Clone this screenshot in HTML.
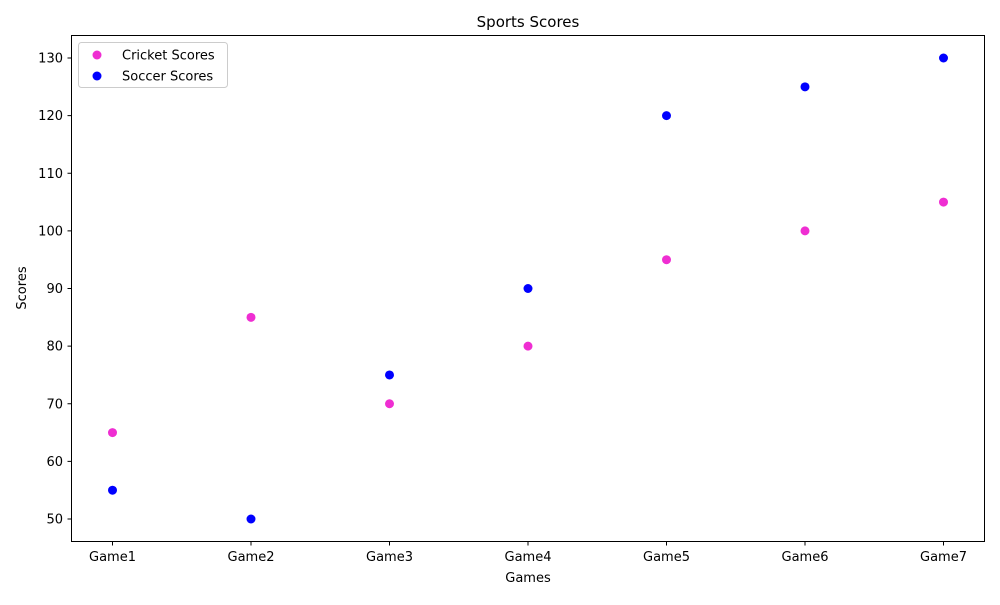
<!DOCTYPE html>
<html><head><meta charset="utf-8"><style>
body{margin:0;background:#fff;font-family:"Liberation Sans","DejaVu Sans",sans-serif;}
svg text{font-family:"DejaVu Sans","Liberation Sans",sans-serif;fill:#000;}
</style></head><body>
<svg id="chart" width="1000" height="600" xmlns="http://www.w3.org/2000/svg">
<text x="528" y="27" font-size="15" text-anchor="middle">Sports Scores</text>
<g id="grid"></g>
<rect x="71.5" y="35.5" width="913" height="506" fill="none" stroke="#000" stroke-width="1"/>
<g id="marks"></g>
<text x="528" y="582" font-size="13" text-anchor="middle">Games</text>
<text transform="translate(26,288) rotate(-90)" font-size="13" text-anchor="middle">Scores</text>
<g>
<rect x="78.5" y="42.5" width="149" height="45" rx="3" fill="#fff" stroke="#ccc"/>
<circle cx="97" cy="55" r="4.5" fill="#ef2ed2"/>
<text x="122" y="59.5" font-size="13">Cricket Scores</text>
<circle cx="97" cy="76" r="4.5" fill="#0000ff"/>
<text x="122" y="80.5" font-size="13">Soccer Scores</text>
</g>
</svg>
<script>
const categories=["Game1","Game2","Game3","Game4","Game5","Game6","Game7"];
const cricketScores=[65,85,70,80,95,100,105];
const soccerScores=[55,50,75,90,120,125,130];
const yTicks=[50,60,70,80,90,100,110,120,130];
const NS="http://www.w3.org/2000/svg";
const xs=i=>112.5+i*138.5;
const ys=v=>519-(v-50)*(461/80);
const g=document.getElementById('grid'),m=document.getElementById('marks');
function el(t,a,p){const e=document.createElementNS(NS,t);for(const k in a)e.setAttribute(k,a[k]);p.appendChild(e);return e;}
yTicks.forEach(v=>{
 const y=ys(v);
 const l=el('line',{x1:67.5,x2:71.5,y1:y,y2:y,stroke:'#000'},g);
 
 
 const t=el('text',{x:63,y:y+4.5,'font-size':13,'text-anchor':'end'},g);t.textContent=v;
 
 
});
categories.forEach((c,i)=>{
 const x=xs(i);
 const l=el('line',{x1:x,x2:x,y1:541.5,y2:545.5,stroke:'#000'},g);
 
 
 const t=el('text',{x:x,y:561,'font-size':13,'text-anchor':'middle'},g);t.textContent=c;
 
 
});
cricketScores.forEach((v,i)=>{
 const c=el('circle',{cx:xs(i),cy:ys(v),r:4.5,fill:'#ef2ed2'},m);
 
 
});
soccerScores.forEach((v,i)=>{
 const c=el('circle',{cx:xs(i),cy:ys(v),r:4.5,fill:'#0000ff'},m);
 
 
});
</script>
</body></html>
